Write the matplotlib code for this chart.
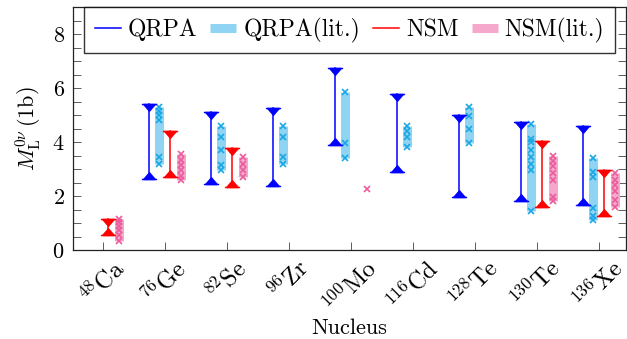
import numpy as np
import matplotlib
matplotlib.use("Agg")
import matplotlib.pyplot as plt
from matplotlib.path import Path
from matplotlib.lines import Line2D

plt.rcParams['font.family'] = 'cmr10'
plt.rcParams['mathtext.fontset'] = 'cm'
plt.rcParams['axes.formatter.use_mathtext'] = True

# nuclei and values
nuclei = [r'$^{48}\mathrm{Ca}$', r'$^{76}\mathrm{Ge}$', r'$^{82}\mathrm{Se}$',
          r'$^{96}\mathrm{Zr}$', r'$^{100}\mathrm{Mo}$', r'$^{116}\mathrm{Cd}$',
          r'$^{128}\mathrm{Te}$', r'$^{130}\mathrm{Te}$', r'$^{136}\mathrm{Xe}$']

qrpa_min = [None, 2.63, 2.45, 2.38, 3.9, 2.9, 1.95, 1.8, 1.67]
qrpa_max = [None, 5.42, 5.12, 5.27, 6.75, 5.76, 5.0, 4.75, 4.6]
nsm_min = [0.55, 2.7, 2.35, None, None, None, None, 1.6, 1.27]
nsm_max = [1.15, 4.4, 3.77, None, None, None, None, 4.03, 2.96]

qrpa_lit = [[],
            [5.3, 5.15, 5.0, 4.8, 3.45, 3.2],
            [4.6, 4.2, 3.7, 3.15, 2.95],
            [4.6, 4.2, 3.45, 3.2],
            [5.85, 3.95, 3.4],
            [4.6, 4.4, 4.2, 3.8],
            [5.3, 4.95, 4.5, 3.95],
            [4.65, 4.1, 4.0, 3.7, 3.45, 3.2, 2.95, 1.45],
            [3.4, 2.9, 2.7, 1.55, 1.25, 1.1]]
nsm_lit = [[1.15, 1.05, 0.9, 0.75, 0.55, 0.35],
           [3.55, 3.35, 3.15, 2.95, 2.75, 2.6],
           [3.45, 3.2, 2.95, 2.7],
           [],
           [2.25],
           [],
           [],
           [3.5, 3.3, 3.1, 2.85, 2.6, 1.95, 1.8],
           [2.85, 2.6, 2.4, 2.2, 1.85, 1.6]]

blue = '#0000ff'
red = '#ff0000'
band_blue = '#8fd4f3'
cross_blue = '#18a8e8'
band_pink = '#f5a8cb'
cross_pink = '#ec5b9c'

# triangle with a cap on its flat side, flat side sits on the value
up_mark = Path([(-1.25, 0), (1.25, 0), (-0.95, 0), (0.95, 0), (0, 1.1), (-0.95, 0)],
               [Path.MOVETO, Path.LINETO, Path.MOVETO, Path.LINETO, Path.LINETO, Path.CLOSEPOLY])
down_mark = Path([(-1.25, 0), (1.25, 0), (-0.95, 0), (0.95, 0), (0, -1.1), (-0.95, 0)],
                 [Path.MOVETO, Path.LINETO, Path.MOVETO, Path.LINETO, Path.LINETO, Path.CLOSEPOLY])

fig = plt.figure(figsize=(6.27, 3.39), dpi=100)
ax = fig.add_axes([73 / 627, 89 / 339, 553 / 627, 243 / 339])

x = np.arange(len(nuclei))
off = {'qrpa': -0.26, 'qlit': -0.085, 'nsm': 0.09, 'nlit': 0.255}


def ranges(lo, hi, xs, color):
    for xi, a, b in zip(xs, lo, hi):
        if a is None:
            continue
        ax.plot([xi, xi], [a, b], color=color, lw=1.1, zorder=3)
        ax.plot([xi], [a], marker=up_mark, ms=11, color=color, mew=1.0, zorder=4)
        ax.plot([xi], [b], marker=down_mark, ms=11, color=color, mew=1.0, zorder=4)


def lit(vals, xs, band, cross):
    for xi, v in zip(xs, vals):
        if not v:
            continue
        if len(v) > 1:
            ax.plot([xi, xi], [min(v), max(v)], color=band, lw=6.5,
                    solid_capstyle='butt', zorder=2)
        ax.plot([xi] * len(v), v, 'x', color=cross, ms=5, mew=1.2, zorder=3)


ranges(qrpa_min, qrpa_max, x + off['qrpa'], blue)
lit(qrpa_lit, x + off['qlit'], band_blue, cross_blue)
ranges(nsm_min, nsm_max, x + off['nsm'], red)
lit(nsm_lit, x + off['nlit'], band_pink, cross_pink)

ax.set_xlim(-0.48, 8.44)
ax.set_ylim(0, 9)
ax.set_xticks(x)
ax.set_xticklabels(nuclei, rotation=45, ha='center', va='top', fontsize=17.5)
ax.set_yticks([0, 2, 4, 6, 8])
ax.set_yticks(np.arange(0, 9.01, 0.5), minor=True)
ax.tick_params(axis='y', which='both', direction='in', right=True, length=6,
               width=0.6, color='#444444', labelsize=16, pad=6)
ax.tick_params(axis='x', direction='in', length=6, width=0.6, color='#444444', pad=4)
for s in ax.spines.values():
    s.set_linewidth(0.9)
    s.set_color('#222222')

ax.set_xlabel('Nucleus', fontsize=16, labelpad=0)
ax.set_ylabel(r'$M^{0\nu}_{\mathrm{L}}\,(1\mathrm{b})$', fontsize=16, labelpad=6)

handles = [Line2D([], [], color=blue, lw=1.1),
           Line2D([], [], color=band_blue, lw=6.5, solid_capstyle='butt'),
           Line2D([], [], color=red, lw=1.1),
           Line2D([], [], color=band_pink, lw=6.5, solid_capstyle='butt')]
leg = ax.legend(handles, ['QRPA', 'QRPA(lit.)', 'NSM', 'NSM(lit.)'],
                loc='upper center', bbox_to_anchor=(0.5, 1.0), ncol=4,
                fontsize=17, frameon=True, fancybox=False, edgecolor='black',
                borderaxespad=0, handlelength=1.1, handletextpad=0.3,
                columnspacing=0.55, borderpad=0.45)
leg.get_frame().set_linewidth(1.0)

fig.savefig('out.png', dpi=100)
